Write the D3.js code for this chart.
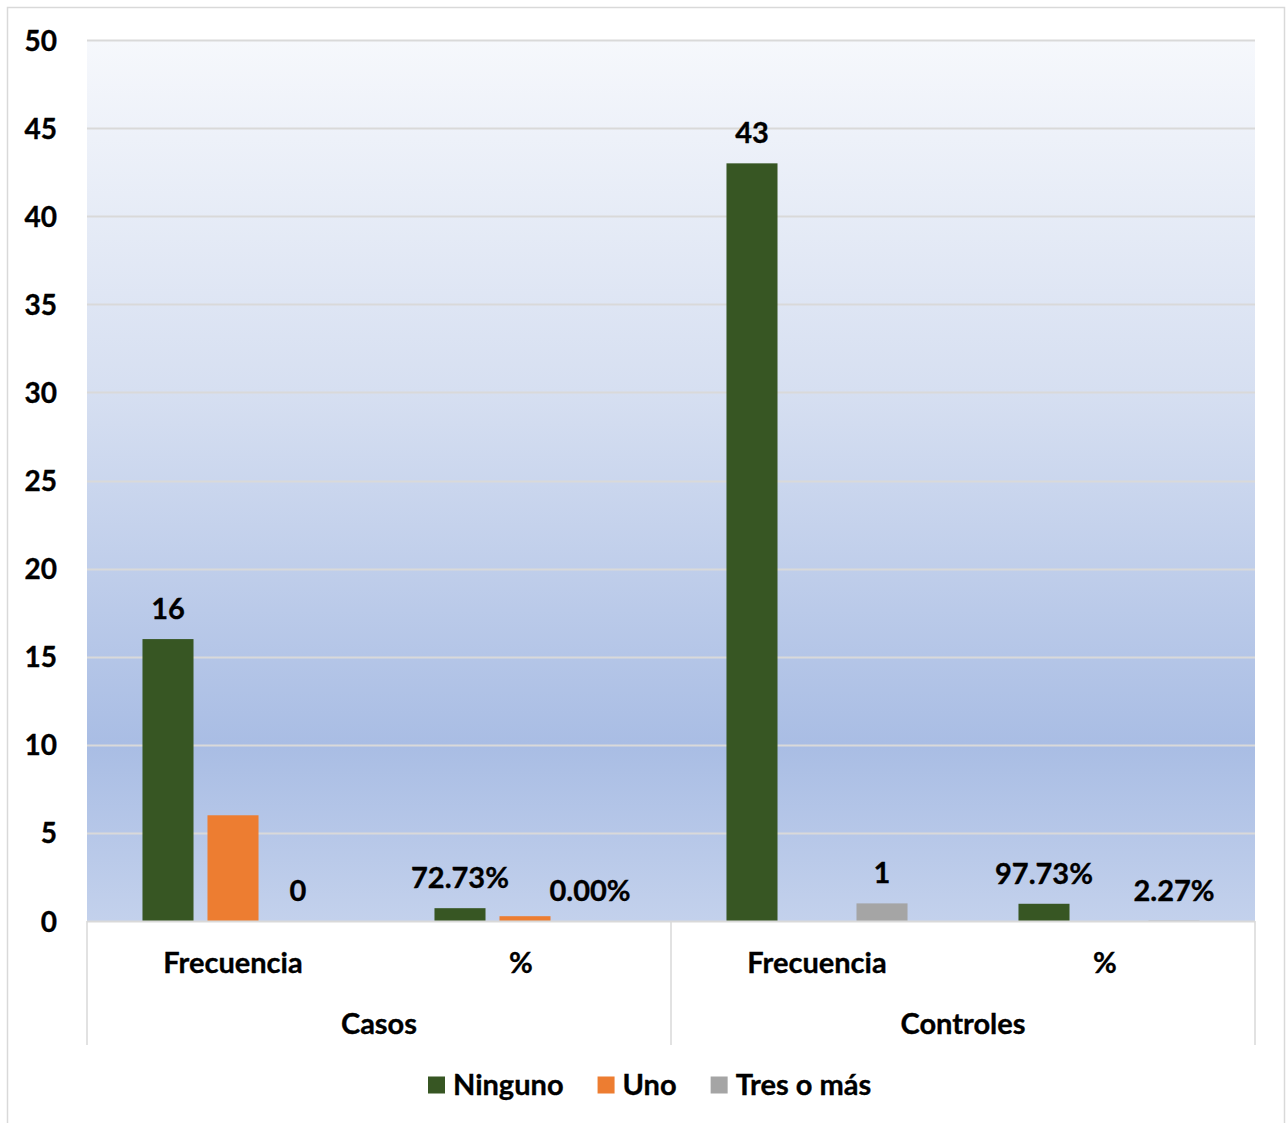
<!DOCTYPE html>
<html>
<head>
<meta charset="utf-8">
<script src="https://cdn.jsdelivr.net/npm/d3@7"></script>
<style>
  html, body { margin: 0; padding: 0; background: #ffffff; }
  svg { display: block; }
  text { font-family: Lato, "Liberation Sans", sans-serif; font-weight: 700; fill: #000; stroke: #000; stroke-width: 0.35px; }
</style>
</head>
<body>
<svg id="chart" width="1288" height="1123"></svg>
<script>
// Category hierarchy: outer groups and inner categories
const groups = ["Casos", "Controles"];
const subcats = ["Frecuencia", "%"];
const seriesNames = ["Ninguno", "Uno", "Tres o más"];
const seriesColors = ["#375623", "#ED7D31", "#A5A5A5"];

// Values per series, in order: Casos/Frecuencia, Casos/%, Controles/Frecuencia, Controles/%
const ninguno = [16, 0.7273, 43, 0.9773];
const uno = [6, 0.2727, 0, 0];
const tresOMas = [0, 0, 1, 0.0227];

// Data label text per series (null = no label shown)
const labelsNinguno = ["16", "72.73%", "43", "97.73%"];
const labelsUno = [null, null, null, null];
const labelsTres = ["0", "0.00%", "1", "2.27%"];

const yTicks = [0, 5, 10, 15, 20, 25, 30, 35, 40, 45, 50];

const seriesValues = [ninguno, uno, tresOMas];
const seriesLabels = [labelsNinguno, labelsUno, labelsTres];

const FONT = 29;

const svg = d3.select("#chart");
const plot = { left: 87, right: 1255, top: 40, bottom: 921 };

// Chart frame
svg.append("rect")
  .attr("x", 7.5).attr("y", 7.5)
  .attr("width", 1277).attr("height", 1135)
  .attr("fill", "#ffffff")
  .attr("stroke", "#d9d9d9").attr("stroke-width", 1.5);

// Plot-area gradient fill
const defs = svg.append("defs");
const grad = defs.append("linearGradient")
  .attr("id", "plotFill").attr("x1", 0).attr("y1", 0).attr("x2", 0).attr("y2", 1);
grad.append("stop").attr("offset", "0%").attr("stop-color", "#f6f8fc");
grad.append("stop").attr("offset", "40%").attr("stop-color", "#d6dff1");
grad.append("stop").attr("offset", "80%").attr("stop-color", "#a9bde4");
grad.append("stop").attr("offset", "100%").attr("stop-color", "#c3d1ec");

svg.append("rect")
  .attr("x", plot.left).attr("y", plot.top)
  .attr("width", plot.right - plot.left).attr("height", plot.bottom - plot.top)
  .attr("fill", "url(#plotFill)");

// Scales
const leafKeys = [];
groups.forEach(g => subcats.forEach(s => leafKeys.push(g + "|" + s)));

const x0 = d3.scaleBand().domain(leafKeys).range([plot.left, plot.right]).padding(0);
const xGroup = d3.scaleBand().domain(groups).range([plot.left, plot.right]).padding(0);
const y = d3.scaleLinear().domain([0, 50]).range([plot.bottom, plot.top]);

// Cluster of bars inside each category
const clusterWidth = x0.bandwidth() * 0.62;
const x1 = d3.scaleBand().domain(seriesNames)
  .range([-clusterWidth / 2, clusterWidth / 2])
  .paddingInner(0.215).paddingOuter(0);

// Gridlines
svg.append("g")
  .selectAll("line")
  .data(yTicks.filter(t => t > 0))
  .join("line")
  .attr("x1", plot.left).attr("x2", plot.right)
  .attr("y1", d => Math.round(y(d)) + 0.5).attr("y2", d => Math.round(y(d)) + 0.5)
  .attr("stroke", "#d9d9d9").attr("stroke-width", 2);

// Y axis tick labels
const yAxis = d3.axisLeft(y).tickValues(yTicks).tickSize(0).tickPadding(0);
const yG = svg.append("g").attr("transform", `translate(57,0)`).call(yAxis);
yG.select(".domain").remove();
yG.selectAll("text")
  .attr("font-size", FONT - 1)
  .attr("font-family", "Lato, 'Liberation Sans', sans-serif")
  .attr("font-weight", 700)
  .attr("fill", "#000")
  .attr("dy", "0.36em");

// Bars
const barData = [];
seriesNames.forEach((s, si) => {
  leafKeys.forEach((k, ci) => {
    barData.push({ series: s, si, key: k, value: seriesValues[si][ci], label: seriesLabels[si][ci] });
  });
});

const barsG = svg.append("g");
barsG.selectAll("rect")
  .data(barData.filter(d => d.value > 0))
  .join("rect")
  .attr("x", d => x0(d.key) + x0.bandwidth() / 2 + x1(d.series))
  .attr("width", x1.bandwidth())
  .attr("y", d => y(d.value))
  .attr("height", d => y(0) - y(d.value))
  .attr("fill", d => seriesColors[d.si]);

// Data labels above bars
barsG.selectAll("text")
  .data(barData.filter(d => d.label !== null))
  .join("text")
  .attr("x", d => x0(d.key) + x0.bandwidth() / 2 + x1(d.series) + x1.bandwidth() / 2)
  .attr("y", d => y(d.value) - 20)
  .attr("text-anchor", "middle")
  .attr("font-size", FONT)
  .text(d => d.label);

// Category axis line
svg.append("line")
  .attr("x1", plot.left).attr("x2", plot.right)
  .attr("y1", plot.bottom + 0.5).attr("y2", plot.bottom + 0.5)
  .attr("stroke", "#d9d9d9").attr("stroke-width", 2);

// Group separators
const sepX = groups.map(g => xGroup(g)).concat([plot.right]);
svg.append("g").selectAll("line")
  .data(sepX)
  .join("line")
  .attr("x1", d => d).attr("x2", d => d)
  .attr("y1", plot.bottom).attr("y2", 1045)
  .attr("stroke", "#d9d9d9").attr("stroke-width", 1.5);

// Inner category labels
svg.append("g").selectAll("text")
  .data(leafKeys)
  .join("text")
  .attr("x", d => x0(d) + x0.bandwidth() / 2 - (d.endsWith("%") ? 4 : 0))
  .attr("y", 973)
  .attr("text-anchor", "middle")
  .attr("font-size", FONT)
  .text(d => d.split("|")[1]);

// Outer group labels
svg.append("g").selectAll("text")
  .data(groups)
  .join("text")
  .attr("x", d => xGroup(d) + xGroup.bandwidth() / 2)
  .attr("y", 1034)
  .attr("text-anchor", "middle")
  .attr("font-size", FONT)
  .text(d => d);

// Legend
const legend = svg.append("g");
const items = legend.selectAll("g")
  .data(seriesNames)
  .join("g");
items.append("rect")
  .attr("width", 17).attr("height", 17)
  .attr("y", -8.5)
  .attr("fill", (d, i) => seriesColors[i]);
items.append("text")
  .attr("x", 25)
  .attr("y", 10)
  .attr("font-size", FONT)
  .text(d => d);

// Lay out legend entries horizontally, starting at a fixed left edge
let cursor = 0;
const widths = [];
items.each(function () {
  const tw = d3.select(this).select("text").node().getComputedTextLength();
  widths.push(25 + tw);
});
const gap = 34;
items.attr("transform", (d, i) => {
  const tx = cursor;
  cursor += widths[i] + gap;
  return `translate(${tx},0)`;
});
legend.attr("transform", `translate(428,1085)`);
</script>
</body>
</html>
